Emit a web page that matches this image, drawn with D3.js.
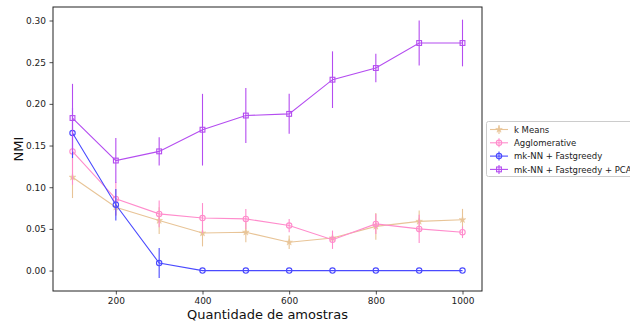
<!DOCTYPE html>
<html>
<head>
<meta charset="utf-8">
<script src="https://cdn.jsdelivr.net/npm/d3@7"></script>
<style>
  body { margin: 0; background: #fff; }
  svg { font-family: "DejaVu Sans", sans-serif; }
</style>
</head>
<body>
<div id="chart"></div>
<script>
// Dados

let amostras = [100, 200, 300, 400, 500, 600, 700, 800, 900, 1000];

let kmeans_nmi = [0.112, 0.076, 0.060, 0.045, 0.046, 0.034, 0.039, 0.053, 0.059, 0.061];
let kmeans_err = [0.025, 0.010, 0.016, 0.016, 0.012, 0.008, 0.005, 0.016, 0.013, 0.013];

let agglo_nmi = [0.143, 0.086, 0.068, 0.063, 0.062, 0.054, 0.037, 0.056, 0.050, 0.046];
let agglo_err = [0.040, 0.020, 0.016, 0.018, 0.012, 0.008, 0.011, 0.012, 0.017, 0.007];

let fastg_nmi = [0.165, 0.079, 0.009, 0.0, 0.0, 0.0, 0.0, 0.0, 0.0, 0.0];
let fastg_err = [0.030, 0.019, 0.018, 0, 0, 0, 0, 0, 0, 0];

let pca_nmi = [0.183, 0.132, 0.143, 0.169, 0.186, 0.188, 0.229, 0.243, 0.273, 0.273];
let pca_err = [0.041, 0.027, 0.017, 0.043, 0.033, 0.024, 0.034, 0.017, 0.027, 0.028];

let y_ticks = [0.00, 0.05, 0.10, 0.15, 0.20, 0.25, 0.30];
let x_ticks = [200, 400, 600, 800, 1000];

let series = [
  {name: 'k Means', values: kmeans_nmi, err: kmeans_err, color: '#e8c497', marker: 'star'},
  {name: 'Agglomerative', values: agglo_nmi, err: agglo_err, color: '#ff8ccc', marker: 'circle'},
  {name: 'mk-NN + Fastgreedy', values: fastg_nmi, err: fastg_err, color: '#4a4aff', marker: 'circle'},
  {name: 'mk-NN + Fastgreedy + PCA', values: pca_nmi, err: pca_err, color: '#b44cf0', marker: 'square'}
];

// Canvas

let width = 630;
let height = 324;
let margin = {left: 53, right: 148, top: 7, bottom: 33};

let svg = d3.select('#chart')
  .append('svg')
  .attr('width', width)
  .attr('height', height);

// Escalas

let x = d3.scaleLinear()
  .domain([55, 1045])
  .range([margin.left, width - margin.right]);

let y = d3.scaleLinear()
  .domain([-0.0245, 0.3162])
  .range([height - margin.bottom, margin.top]);

// Eixos

let xAxis = svg.append('g')
  .attr('transform', `translate(0,${height - margin.bottom})`)
  .call(d3.axisBottom(x).tickValues(x_ticks).tickSize(3.5).tickPadding(3.5).tickFormat(d3.format('d')));

let yAxis = svg.append('g')
  .attr('transform', `translate(${margin.left},0)`)
  .call(d3.axisLeft(y).tickValues(y_ticks).tickSize(3.5).tickPadding(3.5).tickFormat(d3.format('.2f')));

[xAxis, yAxis].forEach(a => {
  a.select('.domain').remove();
  a.selectAll('text').attr('font-size', 9).attr('fill', '#222').attr('font-family', 'DejaVu Sans');
  a.selectAll('line').attr('stroke', '#222').attr('stroke-width', 0.8);
});

svg.append('rect')
  .attr('x', margin.left)
  .attr('y', margin.top)
  .attr('width', width - margin.left - margin.right)
  .attr('height', height - margin.top - margin.bottom)
  .attr('fill', 'none')
  .attr('stroke', '#222')
  .attr('stroke-width', 1);

// Rótulos

svg.append('text')
  .attr('x', (margin.left + width - margin.right) / 2)
  .attr('y', 319)
  .attr('text-anchor', 'middle')
  .attr('font-size', 13)
  .attr('fill', '#111')
  .text('Quantidade de amostras');

svg.append('text')
  .attr('transform', `translate(23,${(margin.top + height - margin.bottom) / 2}) rotate(-90)`)
  .attr('text-anchor', 'middle')
  .attr('font-size', 13)
  .attr('fill', '#111')
  .text('NMI');

// Marcadores

let drawMarker = (g, type, cx, cy, color) => {
  if (type === 'square') {
    g.append('rect')
      .attr('x', cx - 2.4).attr('y', cy - 2.4)
      .attr('width', 4.8).attr('height', 4.8)
      .attr('fill', 'none').attr('stroke', color).attr('stroke-width', 1.1);
  } else if (type === 'star') {
    g.append('path')
      .attr('d', d3.symbol().type(d3.symbolStar).size(14)())
      .attr('transform', `translate(${cx},${cy})`)
      .attr('fill', color).attr('stroke', color).attr('stroke-width', 0.5);
  } else {
    g.append('circle')
      .attr('cx', cx).attr('cy', cy).attr('r', 2.7)
      .attr('fill', 'none').attr('stroke', color).attr('stroke-width', 1.1);
  }
};

// Séries

let line = d3.line()
  .x((d, i) => x(amostras[i]))
  .y(d => y(d));

series.forEach(s => {
  let g = svg.append('g');

  g.selectAll('line.err')
    .data(s.values)
    .enter()
    .append('line')
    .attr('class', 'err')
    .attr('x1', (d, i) => x(amostras[i]))
    .attr('x2', (d, i) => x(amostras[i]))
    .attr('y1', (d, i) => y(d - s.err[i]))
    .attr('y2', (d, i) => y(d + s.err[i]))
    .attr('stroke', s.color)
    .attr('stroke-width', 1.1);

  g.append('path')
    .datum(s.values)
    .attr('d', line)
    .attr('fill', 'none')
    .attr('stroke', s.color)
    .attr('stroke-width', 1.1);

  s.values.forEach((d, i) => drawMarker(g, s.marker, x(amostras[i]), y(d), s.color));
});

// Legenda

let legend = svg.append('g');

legend.append('rect')
  .attr('x', 486.5)
  .attr('y', 121.5)
  .attr('width', 160)
  .attr('height', 55)
  .attr('rx', 2)
  .attr('fill', '#fff')
  .attr('stroke', '#ccc')
  .attr('stroke-width', 1);

series.forEach((s, i) => {
  let ly = 129.5 + i * 13.3;
  legend.append('line')
    .attr('x1', 490).attr('x2', 508)
    .attr('y1', ly).attr('y2', ly)
    .attr('stroke', s.color).attr('stroke-width', 1.1);
  legend.append('line')
    .attr('x1', 499).attr('x2', 499)
    .attr('y1', ly - 4.5).attr('y2', ly + 4.5)
    .attr('stroke', s.color).attr('stroke-width', 1.1);
  drawMarker(legend, s.marker, 499, ly, s.color);
  legend.append('text')
    .attr('x', 514)
    .attr('y', ly + 3.3)
    .attr('font-size', 8.5)
    .attr('fill', '#222')
    .text(s.name);
});
</script>
</body>
</html>
